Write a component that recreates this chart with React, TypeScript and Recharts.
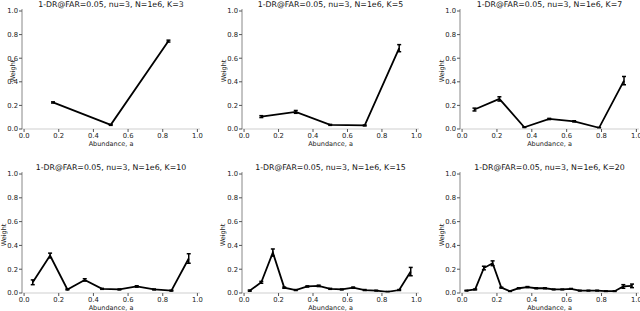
import { LineChart, Line, XAxis, YAxis, ErrorBar } from "recharts";

// bin centres, mean weights and error half-widths
const k3X = [0.167, 0.5, 0.833];
const k3Y = [0.225, 0.035, 0.745];
const k3Err = [0.005, 0.004, 0.008];

const k5X = [0.1, 0.3, 0.5, 0.7, 0.9];
const k5Y = [0.105, 0.145, 0.035, 0.03, 0.685];
const k5Err = [0.008, 0.012, 0.004, 0.004, 0.03];

const k7X = [0.071, 0.214, 0.357, 0.5, 0.643, 0.786, 0.929];
const k7Y = [0.165, 0.255, 0.015, 0.085, 0.065, 0.01, 0.41];
const k7Err = [0.012, 0.018, 0.004, 0.005, 0.005, 0.003, 0.035];

const k10X = [0.05, 0.15, 0.25, 0.35, 0.45, 0.55, 0.65, 0.75, 0.85, 0.95];
const k10Y = [0.09, 0.315, 0.03, 0.11, 0.035, 0.03, 0.055, 0.03, 0.02, 0.29];
const k10Err = [0.02, 0.02, 0.004, 0.01, 0.004, 0.004, 0.006, 0.004, 0.004, 0.04];

const k15X = [0.033, 0.1, 0.167, 0.233, 0.3, 0.367, 0.433, 0.5, 0.567, 0.633, 0.7, 0.767, 0.833, 0.9, 0.967];
const k15Y = [0.02, 0.09, 0.34, 0.045, 0.025, 0.055, 0.06, 0.035, 0.03, 0.045, 0.025, 0.02, 0.01, 0.025, 0.18];
const k15Err = [0.005, 0.008, 0.03, 0.005, 0.004, 0.005, 0.006, 0.004, 0.004, 0.005, 0.004, 0.003, 0.003, 0.004, 0.035];

const k20X = [0.025, 0.075, 0.125, 0.175, 0.225, 0.275, 0.325, 0.375, 0.425, 0.475, 0.525, 0.575, 0.625, 0.675, 0.725, 0.775, 0.825, 0.875, 0.925, 0.975];
const k20Y = [0.02, 0.03, 0.21, 0.25, 0.045, 0.015, 0.04, 0.05, 0.04, 0.04, 0.03, 0.03, 0.035, 0.02, 0.02, 0.02, 0.015, 0.015, 0.055, 0.06];
const k20Err = [0.003, 0.004, 0.015, 0.02, 0.004, 0.003, 0.004, 0.004, 0.004, 0.004, 0.003, 0.003, 0.003, 0.003, 0.003, 0.003, 0.003, 0.003, 0.015, 0.015];

const ticks = [0, 0.2, 0.4, 0.6, 0.8, 1.0];
const xLabel = "Abundance, a";
const yLabel = "Weight";
const titlePrefix = "1-DR@FAR=0.05, nu=3, N=1e6, K=";

const FONT = "'DejaVu Sans', sans-serif";
const X_DOMAIN = [-0.012, 1.015];
const Y_DOMAIN = [0, 1.017];

type PanelProps = {
  k: number;
  xs: number[];
  ys: number[];
  errs: number[];
  x0: number;
  y0: number;
  w: number;
  h: number;
  yLabelX: number;
};

function Panel({ k, xs, ys, errs, x0, y0, w, h, yLabelX }: PanelProps) {
  const rows = xs.map((x, i) => ({ x, y: ys[i], err: errs[i] }));
  const yAxisW = 24;
  const top = 8;
  const xAxisH = 20;
  const tickStyle = { fontSize: 6.8, fill: "#222", fontFamily: FONT };
  const fmt = (v: number) => v.toFixed(1);

  return (
    <>
      <div
        style={{
          position: "absolute",
          left: x0 + w / 2,
          top: y0 - 5,
          transform: "translate(-50%, -50%)",
          fontFamily: FONT,
          fontSize: 7.8,
          color: "#111",
          whiteSpace: "nowrap",
        }}
      >
        {titlePrefix + k}
      </div>
      <div style={{ position: "absolute", left: x0 - yAxisW, top: y0 - top }}>
        <LineChart
          width={yAxisW + w + 6}
          height={top + h + xAxisH}
          data={rows}
          margin={{ top, right: 6, bottom: 0, left: 0 }}
        >
          <XAxis
            dataKey="x"
            type="number"
            domain={X_DOMAIN}
            allowDataOverflow
            ticks={ticks}
            tickFormatter={fmt}
            height={xAxisH}
            tickSize={3}
            tickMargin={1}
            tick={tickStyle}
            axisLine={{ stroke: "#cfcfcf" }}
            tickLine={{ stroke: "#555" }}
          />
          <XAxis
            xAxisId="top"
            orientation="top"
            type="number"
            domain={X_DOMAIN}
            allowDataOverflow
            height={0}
            tick={false}
            tickLine={false}
            axisLine={{ stroke: "#aaa" }}
          />
          <YAxis
            type="number"
            domain={Y_DOMAIN}
            allowDataOverflow
            ticks={ticks}
            tickFormatter={fmt}
            width={yAxisW}
            tickSize={3}
            tickMargin={1}
            tick={tickStyle}
            axisLine={{ stroke: "#888" }}
            tickLine={{ stroke: "#555" }}
          />
          <YAxis
            yAxisId="right"
            orientation="right"
            type="number"
            domain={Y_DOMAIN}
            width={0}
            tick={false}
            tickLine={false}
            axisLine={{ stroke: "#999" }}
          />
          <Line
            dataKey="y"
            type="linear"
            stroke="#000"
            strokeWidth={1.8}
            dot={false}
            isAnimationActive={false}
          >
            <ErrorBar
              dataKey="err"
              direction="y"
              width={2}
              stroke="#000"
              strokeWidth={1.5}
              isAnimationActive={false}
            />
          </Line>
        </LineChart>
      </div>
      <div
        style={{
          position: "absolute",
          left: x0 + w / 2,
          top: y0 + h + 15,
          transform: "translate(-50%, -50%)",
          fontFamily: FONT,
          fontSize: 6.5,
          color: "#222",
          whiteSpace: "nowrap",
        }}
      >
        {xLabel}
      </div>
      <div
        style={{
          position: "absolute",
          left: yLabelX,
          top: y0 + h / 2 + 2,
          transform: "translate(-50%, -50%) rotate(-90deg)",
          fontFamily: FONT,
          fontSize: 6.5,
          color: "#222",
          whiteSpace: "nowrap",
        }}
      >
        {yLabel}
      </div>
    </>
  );
}

export default function App() {
  return (
    <div
      style={{
        position: "absolute",
        left: 0,
        top: 0,
        width: 640,
        height: 311,
        overflow: "hidden",
        background: "#fff",
      }}
    >
      <Panel k={3} xs={k3X} ys={k3Y} errs={k3Err} x0={22} y0={9} w={178} h={120} yLabelX={12.5} />
      <Panel k={5} xs={k5X} ys={k5Y} errs={k5Err} x0={242} y0={9} w={177} h={120} yLabelX={224} />
      <Panel k={7} xs={k7X} ys={k7Y} errs={k7Err} x0={460} y0={9} w={179} h={120} yLabelX={442} />
      <Panel k={10} xs={k10X} ys={k10Y} errs={k10Err} x0={22} y0={172} w={178} h={121} yLabelX={3.5} />
      <Panel k={15} xs={k15X} ys={k15Y} errs={k15Err} x0={242} y0={172} w={177} h={121} yLabelX={222.5} />
      <Panel k={20} xs={k20X} ys={k20Y} errs={k20Err} x0={460} y0={172} w={179} h={121} yLabelX={441.5} />
    </div>
  );
}
